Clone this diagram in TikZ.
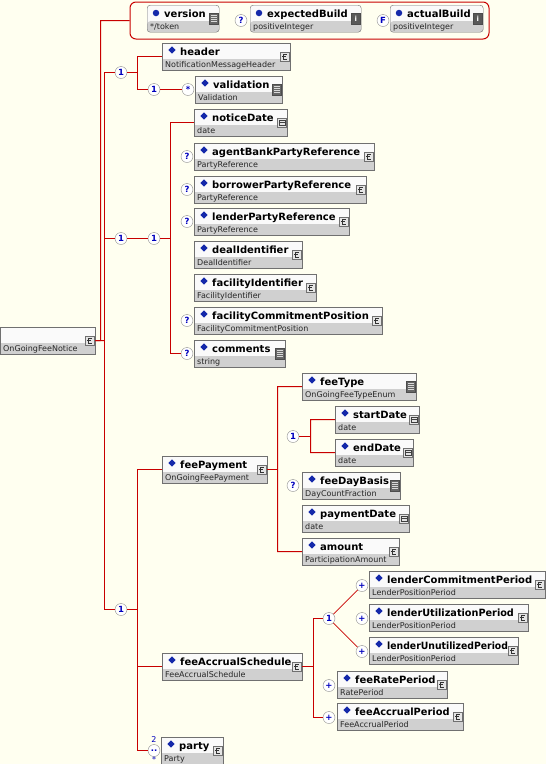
\documentclass[tikz,border=0pt]{standalone}
\usepackage{fontspec}
\setmainfont{DejaVu Sans}
\usetikzlibrary{shapes.geometric, positioning, calc}

\definecolor{paper}{RGB}{255,255,240}
\definecolor{wire}{RGB}{200,0,0}
\definecolor{frame}{RGB}{112,112,112}
\definecolor{typerow}{RGB}{208,208,208}
\definecolor{namerow}{RGB}{250,250,250}
\definecolor{mark}{RGB}{20,40,170}
\definecolor{cardtext}{RGB}{0,0,190}

% element box: node name, x, y, width, label, type, icon style
\newcommand{\elem}[7]{%
  \node[elembox, minimum width=#4pt] (#1) at (#2,#3) {};
  \node[namelabel] (#1-name) at ([shift={(18pt,-12.5pt)}]#1.north west) {#5};
  \node[typelabel] (#1-type) at ([shift={(3pt,3pt)}]#1.south west) {#6};
  \node[elemmark] (#1-mark) at ([shift={(10pt,-7pt)}]#1.north west) {};
  \node[#7] (#1-icon) at ([shift={(-5.5pt,-13.5pt)}]#1.north east) {};
}
% attribute box: same arguments
\newcommand{\attr}[7]{%
  \node[elembox, rounded corners=3pt, minimum width=#4pt] (#1) at (#2,#3) {};
  \node[namelabel] (#1-name) at ([shift={(17pt,-12.5pt)}]#1.north west) {#5};
  \node[typelabel] (#1-type) at ([shift={(3pt,3pt)}]#1.south west) {#6};
  \node[attrmark] (#1-mark) at ([shift={(9pt,-8pt)}]#1.north west) {};
  \node[#7] (#1-icon) at ([shift={(-5.5pt,-13.5pt)}]#1.north east) {};
}

\begin{document}
\begin{tikzpicture}[
    x=1pt, y=-1pt,
    elembox/.style={draw=frame, fill=namerow, anchor=north west, minimum height=27pt, inner sep=0pt,
        path picture={\fill[typerow] (path picture bounding box.south west) rectangle ([yshift=11pt]path picture bounding box.south east);}},
    namelabel/.style={anchor=base west, inner sep=0pt, font=\fontsize{10}{12}\selectfont\bfseries},
    typelabel/.style={anchor=base west, inner sep=0pt, font=\fontsize{8}{9}\selectfont, text=black!85},
    elemmark/.style={diamond, fill=mark, inner sep=0pt, minimum size=7.5pt},
    attrmark/.style={circle, fill=mark, inner sep=0pt, minimum size=6.5pt},
    ctype/.style={draw=frame, fill=black!10, minimum size=9pt, inner sep=0pt,
        path picture={
            \draw[black!80, line width=0.7pt] ([shift={(2pt,2.4pt)}]path picture bounding box.center) -- ([shift={(-1.6pt,2.4pt)}]path picture bounding box.center)
                -- ([shift={(-1.6pt,-2.4pt)}]path picture bounding box.center) -- ([shift={(2pt,-2.4pt)}]path picture bounding box.center);
            \draw[black!80, line width=0.7pt] ([shift={(-2.8pt,0pt)}]path picture bounding box.center) -- ([shift={(1.2pt,0pt)}]path picture bounding box.center);}},
    stype/.style={draw=black!70, fill=black!60, minimum width=9pt, minimum height=11pt, inner sep=0pt,
        path picture={\foreach \k in {-3.2,-1.1,1.1,3.2}{
            \draw[black!15, line width=0.9pt] ([shift={(-3pt,\k pt)}]path picture bounding box.center) -- ([shift={(3pt,\k pt)}]path picture bounding box.center);}}},
    dtype/.style={draw=frame, fill=black!10, minimum size=9pt, inner sep=0pt,
        path picture={
            \draw[black!75, line width=0.6pt] ([shift={(-3pt,-2.5pt)}]path picture bounding box.center) rectangle ([shift={(3pt,2pt)}]path picture bounding box.center);
            \draw[black!75, line width=0.6pt] ([shift={(-3pt,0.5pt)}]path picture bounding box.center) -- ([shift={(3pt,0.5pt)}]path picture bounding box.center);}},
    itype/.style={draw=black!70, fill=black!65, minimum width=9pt, minimum height=11pt, inner sep=0pt,
        text=white, font=\fontsize{7}{7}\selectfont\bfseries},
    card/.style={circle, draw=black!45, fill=white, inner sep=0pt, minimum size=12pt,
        text=cardtext, font=\fontsize{8.5}{8.5}\selectfont\bfseries},
    cardnum/.style={inner sep=0pt, text=cardtext, font=\fontsize{8}{8}\selectfont},
    attrgroup/.style={draw=wire, line width=1pt, rounded corners=6pt, anchor=north west, inner sep=0pt},
    conn/.style={draw=wire, line width=1pt},
]

\fill[paper] (0,0) rectangle (546,764);
\useasboundingbox (0,0) rectangle (546,764);

% root element
\node[elembox, minimum width=95pt] (root) at (0,327) {};
\node[typelabel] (root-type) at ([shift={(3pt,3pt)}]root.south west) {OnGoingFeeNotice};
\node[ctype] (root-icon) at ([shift={(-5.5pt,-13.5pt)}]root.north east) {};

% attributes
\node[attrgroup, minimum width=359pt, minimum height=37pt] (attrs) at (129.5,1.5) {};
\attr{version}{147}{5}{72}{version}{*/token}{stype}
\attr{expectedBuild}{250}{5}{111}{expectedBuild}{positiveInteger}{itype}
\attr{actualBuild}{390}{5}{93}{actualBuild}{positiveInteger}{itype}
\node[itype] (expectedBuild-i) at (expectedBuild-icon) {i};
\node[itype] (actualBuild-i) at (actualBuild-icon) {i};
\node[card] (expOpt) at (241,20.5) {?};
\node[card] (actFix) at (383,20.5) {F};

% first sequence
\node[card] (seq1) at (121,72.5) {1};
\elem{header}{162}{43}{128}{header}{NotificationMessageHeader}{ctype}
\elem{validation}{195}{76}{87}{validation}{Validation}{stype}
\node[card] (valCard) at (154,89.5) {1};
\node[card] (valStar) at (188,89.5) {*};

% second sequence
\node[card] (seq2) at (121,238.5) {1};
\node[card] (grp2) at (154,238.5) {1};
\elem{noticeDate}{194}{109}{93}{noticeDate}{date}{dtype}
\elem{agentBank}{194}{143}{180}{agentBankPartyReference}{PartyReference}{ctype}
\elem{borrower}{194}{176}{172}{borrowerPartyReference}{PartyReference}{ctype}
\elem{lender}{194}{208}{155}{lenderPartyReference}{PartyReference}{ctype}
\elem{dealId}{194}{241}{108}{dealIdentifier}{DealIdentifier}{ctype}
\elem{facilityId}{194}{274}{122}{facilityIdentifier}{FacilityIdentifier}{ctype}
\elem{commitPos}{194}{307}{188}{facilityCommitmentPosition}{FacilityCommitmentPosition}{ctype}
\elem{comments}{194}{340}{91}{comments}{string}{stype}
\foreach \n/\y in {agentOpt/156.5, borrowerOpt/189.5, lenderOpt/221.5, commitOpt/320.5, commentsOpt/353.5}
    \node[card] (\n) at (187,\y) {?};

% third sequence
\node[card] (seq3) at (121,609.5) {1};
\elem{feePayment}{162}{456}{105}{feePayment}{OnGoingFeePayment}{ctype}
\elem{feeType}{302}{373}{114}{feeType}{OnGoingFeeTypeEnum}{stype}
\elem{startDate}{335}{406}{84}{startDate}{date}{dtype}
\elem{endDate}{335}{439}{78}{endDate}{date}{dtype}
\elem{feeDayBasis}{302}{472}{98}{feeDayBasis}{DayCountFraction}{stype}
\elem{paymentDate}{302}{505}{107}{paymentDate}{date}{dtype}
\elem{amount}{302}{538}{97}{amount}{ParticipationAmount}{ctype}
\node[card] (dateChoice) at (293,436.5) {1};
\node[card] (dayOpt) at (293,485.5) {?};

\elem{feeSchedule}{162}{653}{140}{feeAccrualSchedule}{FeeAccrualSchedule}{ctype}
\elem{commitPeriod}{369}{571}{176}{lenderCommitmentPeriod}{LenderPositionPeriod}{ctype}
\elem{utilPeriod}{369}{604}{159}{\scalebox{0.97}[1]{lenderUtilizationPeriod}}{LenderPositionPeriod}{ctype}
\elem{unutilPeriod}{369}{637}{149}{\scalebox{0.93}[1]{lenderUnutilizedPeriod}}{LenderPositionPeriod}{ctype}
\elem{ratePeriod}{337}{671}{110}{feeRatePeriod}{RatePeriod}{ctype}
\elem{accrualPeriod}{337}{703}{126}{\scalebox{0.98}[1]{feeAccrualPeriod}}{FeeAccrualPeriod}{ctype}
\node[card] (schedChoice) at (329,618.5) {1};
\foreach \n/\y in {commitPlus/585.5, utilPlus/618.5, unutilPlus/651.5}
    \node[card] (\n) at (362,\y) {+};
\node[card] (ratePlus) at (329,685.5) {+};
\node[card] (accrualPlus) at (329,717.5) {+};

\elem{party}{161}{737}{62}{party}{Party}{ctype}
\node[card] (partyCard) at (154,750.5) {..};
\node[cardnum] (partyMin) at (154,740) {2};
\node[cardnum] (partyMax) at (154,760) {*};

% buses
\coordinate (attrBus) at (100.5,340.5);
\coordinate (seqBus) at (104.5,340.5);
\coordinate (bus1) at (137.5,89.5);
\coordinate (bus2) at (170.5,353.5);
\coordinate (bus3) at (137.5,750.5);
\coordinate (payBus) at (277.5,551.5);
\coordinate (dateBus) at (310.5,452.5);
\coordinate (schedBus) at (313.5,717.5);

% connectors
\draw[conn] (attrs.west |- expOpt) -| (attrBus) -- (root.east);
\draw[conn] (root.east) -- (seqBus);
\draw[conn] (seq1.west) -| (seqBus) |- (seq3.west);
\draw[conn] (seq2.west) -- (seq2.west -| seqBus);

\draw[conn] (header.west) -| (bus1) -- (valCard.west);
\draw[conn] (seq1.east) -- (seq1.east -| bus1);
\draw[conn] (valCard.east) -- (valStar.west);

\draw[conn] (seq2.east) -- (grp2.west);
\draw[conn] (grp2.east) -- (grp2.east -| bus2);
\draw[conn] (noticeDate.west) -| (bus2) -- (commentsOpt.west);

\draw[conn] (feePayment.west) -| (bus3) -- (partyCard.west);
\draw[conn] (seq3.east) -- (seq3.east -| bus3);
\draw[conn] (feeSchedule.west) -- (feeSchedule.west -| bus3);

\draw[conn] (feeType.west) -| (payBus) -- (amount.west);
\draw[conn] (feePayment.east) -- (feePayment.east -| payBus);
\draw[conn] (startDate.west) -| (dateBus) -- (endDate.west);
\draw[conn] (dateChoice.east) -- (dateChoice.east -| dateBus);

\draw[conn] (schedChoice.west) -| (schedBus) -- (accrualPlus.west);
\draw[conn] (feeSchedule.east) -- (feeSchedule.east -| schedBus);
\draw[conn, line width=0.7pt] (schedChoice) -- (commitPlus);
\draw[conn, line width=0.7pt] (schedChoice) -- (unutilPlus);

\end{tikzpicture}
\end{document}
